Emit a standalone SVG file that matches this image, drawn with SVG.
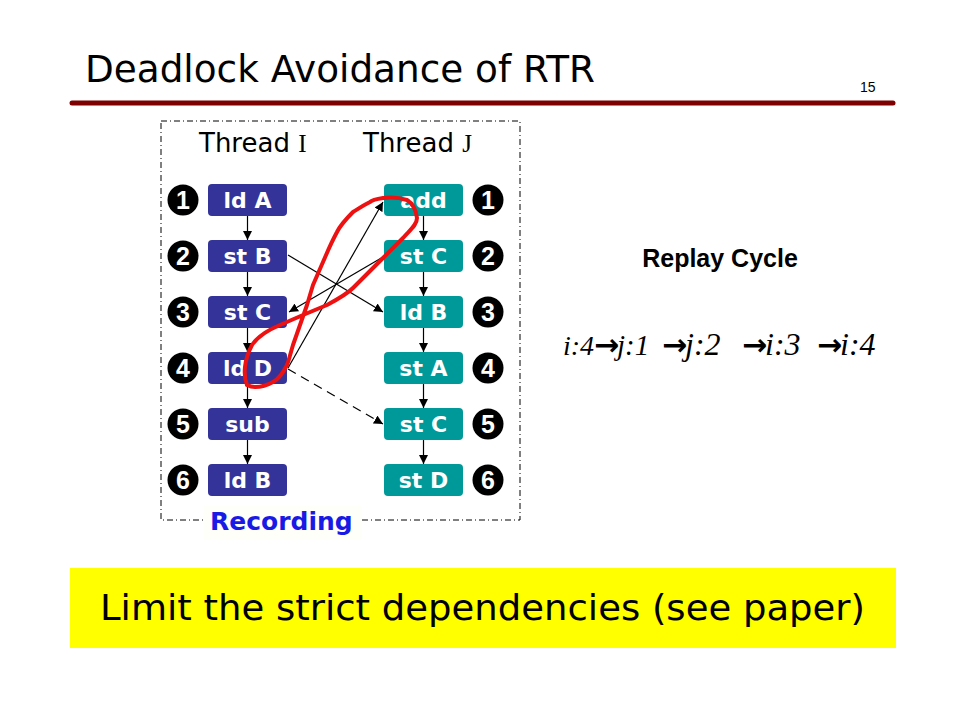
<svg xmlns="http://www.w3.org/2000/svg" width="960" height="720" viewBox="0 0 960 720">
<defs>
<marker id="ah" viewBox="0 0 10 10" refX="10" refY="5" markerWidth="9" markerHeight="9" markerUnits="userSpaceOnUse" orient="auto">
<path d="M0,0 L10,5 L0,10 z" fill="#000"/>
</marker>
<style>
.bi{fill:#333399}
.bj{fill:#009999}
.bl{fill:#fff;font-family:"DejaVu Sans",sans-serif;font-weight:bold;font-size:22px;text-anchor:middle}
.num circle{fill:#000}
.num text{fill:#fff;font-family:"Liberation Sans",sans-serif;font-weight:bold;font-size:25px;text-anchor:middle}
.cn line{stroke:#000;stroke-width:1.2;marker-end:url(#ah)}
.comic{font-family:"DejaVu Sans",sans-serif;fill:#000}
.seq{font-family:"Liberation Serif",serif;font-style:italic;font-size:32px;fill:#000}
.ar{font-style:normal;font-weight:bold;font-family:"DejaVu Sans",sans-serif;font-size:30px}
</style>
</defs>
<rect width="960" height="720" fill="#fff"/>

<g id="title">
<text class="comic" x="85" y="82" font-size="37" textLength="510" lengthAdjust="spacingAndGlyphs">Deadlock Avoidance of RTR</text>
<line x1="72" y1="103" x2="893" y2="103" stroke="#7f0000" stroke-width="5" stroke-linecap="round"/>
<text x="860" y="92" font-family="Liberation Sans,sans-serif" font-size="14" fill="#000">15</text>
</g>

<rect id="frame" x="161" y="121" width="359" height="399" fill="none" stroke="#000" stroke-width="1" stroke-dasharray="6 3 1 3"/>

<g id="headers">
<text class="comic" x="199" y="152" font-size="26">Thread <tspan font-family="Liberation Serif,serif" font-size="25">I</tspan></text>
<text class="comic" x="363" y="152" font-size="26">Thread <tspan font-family="Liberation Serif,serif" font-size="25">J</tspan></text>
</g>

<g id="connectors">
<g class="cn">
<line x1="247.5" y1="216" x2="247.5" y2="240"/>
<line x1="247.5" y1="272" x2="247.5" y2="296"/>
<line x1="247.5" y1="328" x2="247.5" y2="352"/>
<line x1="247.5" y1="384" x2="247.5" y2="408"/>
<line x1="247.5" y1="440" x2="247.5" y2="464"/>
<line x1="423.5" y1="216" x2="423.5" y2="240"/>
<line x1="423.5" y1="272" x2="423.5" y2="296"/>
<line x1="423.5" y1="328" x2="423.5" y2="352"/>
<line x1="423.5" y1="384" x2="423.5" y2="408"/>
<line x1="423.5" y1="440" x2="423.5" y2="464"/>
<line x1="288" y1="255" x2="383" y2="312"/>
<line x1="383" y1="257" x2="289" y2="312"/>
<line x1="288" y1="368" x2="383" y2="202"/>
<line x1="288" y1="369" x2="383" y2="424" stroke-width="1.8" stroke-dasharray="9 6"/>
</g>
</g>

<g id="thread-i">
<g id="i1"><rect class="bi" x="208" y="184" width="79" height="32" rx="4"/><text class="bl" x="247.5" y="208">ld A</text></g>
<g id="i2"><rect class="bi" x="208" y="240" width="79" height="32" rx="4"/><text class="bl" x="247.5" y="264">st B</text></g>
<g id="i3"><rect class="bi" x="208" y="296" width="79" height="32" rx="4"/><text class="bl" x="247.5" y="320">st C</text></g>
<g id="i4"><rect class="bi" x="208" y="352" width="79" height="32" rx="4"/><text class="bl" x="247.5" y="376">ld D</text></g>
<g id="i5"><rect class="bi" x="208" y="408" width="79" height="32" rx="4"/><text class="bl" x="247.5" y="432">sub</text></g>
<g id="i6"><rect class="bi" x="208" y="464" width="79" height="32" rx="4"/><text class="bl" x="247.5" y="488">ld B</text></g>
</g>

<g id="thread-j">
<g id="j1"><rect class="bj" x="384" y="184" width="79" height="32" rx="4"/><text class="bl" x="423.5" y="208">add</text></g>
<g id="j2"><rect class="bj" x="384" y="240" width="79" height="32" rx="4"/><text class="bl" x="423.5" y="264">st C</text></g>
<g id="j3"><rect class="bj" x="384" y="296" width="79" height="32" rx="4"/><text class="bl" x="423.5" y="320">ld B</text></g>
<g id="j4"><rect class="bj" x="384" y="352" width="79" height="32" rx="4"/><text class="bl" x="423.5" y="376">st A</text></g>
<g id="j5"><rect class="bj" x="384" y="408" width="79" height="32" rx="4"/><text class="bl" x="423.5" y="432">st C</text></g>
<g id="j6"><rect class="bj" x="384" y="464" width="79" height="32" rx="4"/><text class="bl" x="423.5" y="488">st D</text></g>
</g>

<g id="numbers" class="num">
<circle cx="183" cy="200" r="15.5"/><text x="183" y="209">1</text>
<circle cx="183" cy="256" r="15.5"/><text x="183" y="265">2</text>
<circle cx="183" cy="312" r="15.5"/><text x="183" y="321">3</text>
<circle cx="183" cy="368" r="15.5"/><text x="183" y="377">4</text>
<circle cx="183" cy="424" r="15.5"/><text x="183" y="433">5</text>
<circle cx="183" cy="480" r="15.5"/><text x="183" y="489">6</text>
<circle cx="488" cy="200" r="15.5"/><text x="488" y="209">1</text>
<circle cx="488" cy="256" r="15.5"/><text x="488" y="265">2</text>
<circle cx="488" cy="312" r="15.5"/><text x="488" y="321">3</text>
<circle cx="488" cy="368" r="15.5"/><text x="488" y="377">4</text>
<circle cx="488" cy="424" r="15.5"/><text x="488" y="433">5</text>
<circle cx="488" cy="480" r="15.5"/><text x="488" y="489">6</text>
</g>

<path id="cycle-loop" d="M247,385 C243,375 244,360 252,345 C258,336 268,330 280,325 L303,315 L327,305 C340,298 348,293 353,288 L383,258 L403,238 C410,230 417,225 417,218 C416,210 412,203 407,200 C398,197 390,197 383,198 C376,199 372,200 370,202 C362,206 358,209 353,212 C345,220 340,226 337,232 C330,245 327,253 323,262 L313,285 L307,305 L300,325 L293,345 C290,355 289,360 287,365 C283,373 279,379 273,382 C266,386 260,387 255,387 C251,387 249,386 247,385" fill="none" stroke="#ee1111" stroke-width="4" stroke-linejoin="round" stroke-linecap="round"/>

<g id="recording">
<rect x="204" y="506" width="158" height="34" fill="#fffffa"/>
<text x="210" y="530" font-family="DejaVu Sans,sans-serif" font-weight="bold" font-size="25" fill="#1a1ae6">Recording</text>
</g>

<g id="replay">
<text x="720" y="267" font-family="Liberation Sans,sans-serif" font-weight="bold" font-size="25" text-anchor="middle" fill="#000">Replay Cycle</text>
<text class="seq" y="355"><tspan x="563" font-size="28">i:4</tspan><tspan class="ar" x="594">→</tspan><tspan x="617" font-size="29">j:1</tspan><tspan class="ar" x="662">→</tspan><tspan x="685">j:2</tspan><tspan class="ar" x="742">→</tspan><tspan x="765">i:3</tspan><tspan class="ar" x="817">→</tspan><tspan x="840">i:4</tspan></text>
</g>

<g id="note">
<rect x="70" y="568" width="826" height="80" fill="#ffff00"/>
<text class="comic" x="100" y="620" font-size="35" textLength="765" lengthAdjust="spacingAndGlyphs">Limit the strict dependencies (see paper)</text>
</g>
</svg>
